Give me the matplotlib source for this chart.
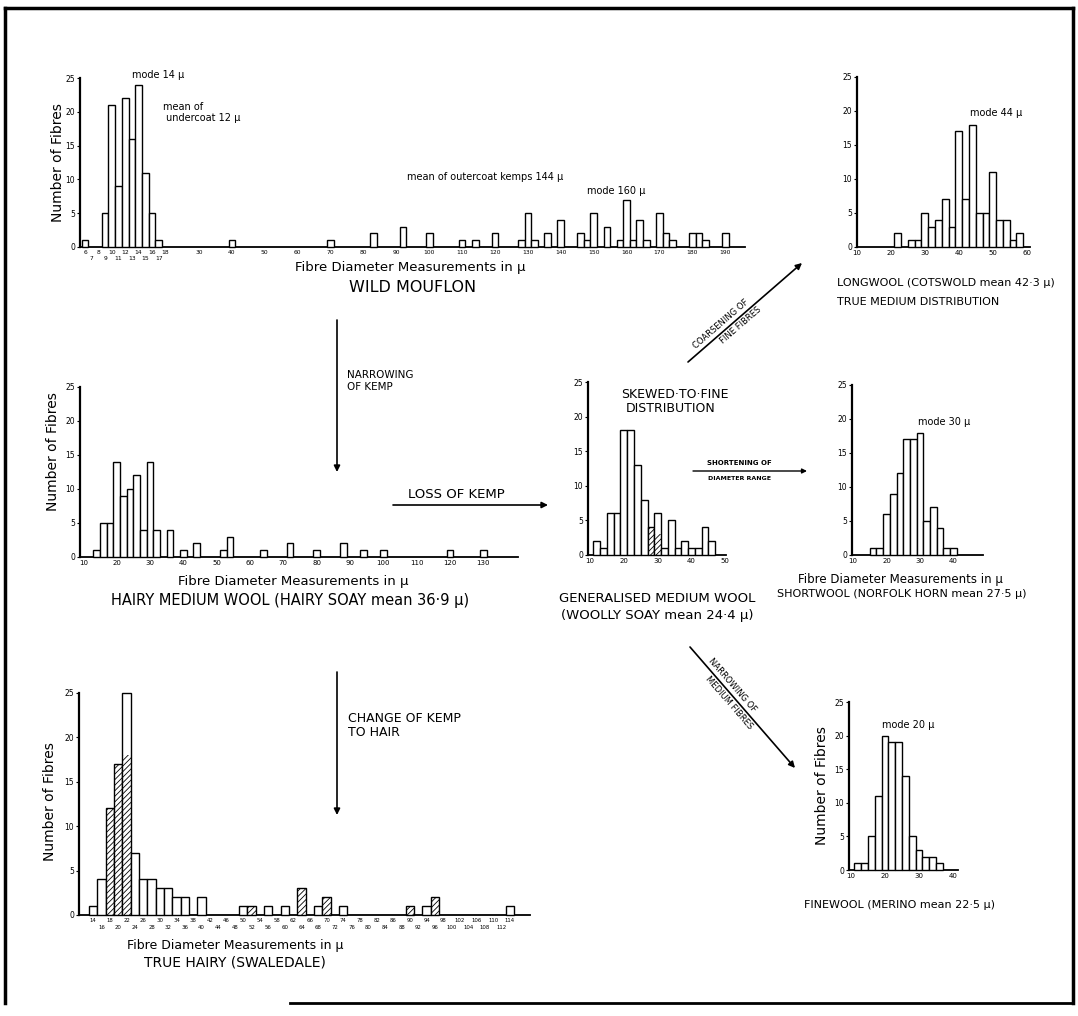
import numpy as np
import matplotlib
matplotlib.use("Agg")
import matplotlib.pyplot as plt

plt.rcParams['font.family'] = ['DejaVu Sans']
plt.rcParams['hatch.linewidth'] = 0.6

W, H = 1078, 1016
MU = '\u00b5'

# ---------------- data ----------------
# Wild mouflon: undercoat (1 micron classes) and outercoat kemps (2 micron classes)
mouflon_fine_d = [6, 9, 10, 11, 12, 13, 14, 15, 16, 17]
mouflon_fine_n = [1, 5, 21, 9, 22, 16, 24, 11, 5, 1]
mouflon_kemp_d = [40, 70, 83, 92, 100, 110, 114, 120, 128, 130, 132, 136, 140, 146, 148,
                  150, 154, 158, 160, 162, 164, 166, 170, 172, 174, 180, 182, 184, 190]
mouflon_kemp_n = [1, 1, 2, 3, 2, 1, 1, 2, 1, 5, 1, 2, 4, 2, 1,
                  5, 3, 1, 7, 1, 4, 1, 5, 2, 1, 2, 2, 1, 2]
mouflon_upper_ticks = [6, 8, 10, 12, 14, 16, 18, 30, 40, 50, 60, 70, 80, 90, 100,
                       110, 120, 130, 140, 150, 160, 170, 180, 190]
mouflon_lower_ticks = [7, 9, 11, 13, 15, 17]

# Longwool (Cotswold)
long_d = [22, 26, 28, 30, 32, 34, 36, 38, 40, 42, 44, 46, 48, 50, 52, 54, 56, 58]
long_n = [2, 1, 1, 5, 3, 4, 7, 3, 17, 7, 18, 5, 5, 11, 4, 4, 1, 2]
long_ticks = [10, 20, 30, 40, 50, 60]

# Hairy medium wool (hairy Soay)
hm_d = [14, 16, 18, 20, 22, 24, 26, 28, 30, 32, 36, 40, 44, 52, 54, 64, 72, 80, 88, 94, 100, 120, 130]
hm_n = [1, 5, 5, 14, 9, 10, 12, 4, 14, 4, 4, 1, 2, 1, 3, 1, 2, 1, 2, 1, 1, 1, 1]
hm_ticks = [10, 20, 30, 40, 50, 60, 70, 80, 90, 100, 110, 120, 130]

# Generalised medium wool (woolly Soay)
gen_d = [12, 14, 16, 18, 20, 22, 24, 26, 28, 30, 32, 34, 36, 38, 40, 42, 44, 46]
gen_n = [2, 1, 6, 6, 18, 18, 13, 8, 4, 6, 1, 5, 1, 2, 1, 1, 4, 2]
gen_hatch_d = [28, 30]
gen_hatch_n = [4, 3]
gen_ticks = [10, 20, 30, 40, 50]

# Shortwool (Norfolk Horn)
short_d = [16, 18, 20, 22, 24, 26, 28, 30, 32, 34, 36, 38, 40]
short_n = [1, 1, 6, 9, 12, 17, 17, 18, 5, 7, 4, 1, 1]
short_ticks = [10, 20, 30, 40]

# True hairy (Swaledale)
th_d = [14, 16, 18, 20, 22, 24, 26, 28, 30, 32, 34, 36, 40, 50, 52, 56, 60, 64, 68, 70, 74, 90, 94, 96, 114]
th_n = [1, 4, 12, 17, 25, 7, 4, 4, 3, 3, 2, 2, 2, 1, 1, 1, 1, 3, 1, 2, 1, 1, 1, 2, 1]
th_hatch_d = [18, 20, 22, 52, 64, 70, 90, 96]
th_hatch_n = [12, 17, 18, 1, 3, 2, 1, 2]
th_upper_ticks = list(range(14, 116, 4))
th_lower_ticks = list(range(16, 114, 4))

# Finewool (Merino)
fine_d = [12, 14, 16, 18, 20, 22, 24, 26, 28, 30, 32, 34, 36]
fine_n = [1, 1, 5, 11, 20, 19, 19, 14, 5, 3, 2, 2, 1]
fine_ticks = [10, 20, 30, 40]

y_ticks = [0, 5, 10, 15, 20, 25]

# ---------------- figure ----------------
fig = plt.figure(figsize=(W / 100, H / 100), dpi=100)
ov = fig.add_axes([0, 0, 1, 1])
ov.set_xlim(0, W)
ov.set_ylim(H, 0)
ov.axis('off')


def T(x, y, s, fs, ha='left', va='center', rot=0, **kw):
    ov.text(x, y, s, fontsize=fs, ha=ha, va=va, rotation=rot,
            rotation_mode='anchor', **kw)


def arrow(p0, p1, lw=1.2, ms=9):
    ov.annotate('', xy=p1, xytext=p0,
                arrowprops=dict(arrowstyle='-|>', lw=lw, color='black',
                                mutation_scale=ms, shrinkA=0, shrinkB=0))


def make_hist(x0, ytop, x1, ybase, xlim, xticks, xfs=5, scale=None,
              minor_ticks=None):
    ax = fig.add_axes([x0 / W, 1 - ybase / H, (x1 - x0) / W, (ybase - ytop) / H])
    ax.patch.set_alpha(0)
    if scale is not None:
        ax.set_xscale('function', functions=scale)
    ax.set_xlim(*xlim)
    ax.set_ylim(0, 25)
    for s in ('top', 'right'):
        ax.spines[s].set_visible(False)
    ax.spines['left'].set_linewidth(1.6)
    ax.spines['bottom'].set_linewidth(1.3)
    ax.set_yticks(y_ticks)
    ax.set_yticklabels([str(v) for v in y_ticks], fontsize=5.5)
    ax.set_xticks(xticks)
    ax.set_xticklabels([str(v) for v in xticks], fontsize=xfs)
    if minor_ticks:
        ax.set_xticks(minor_ticks, minor=True)
        ax.set_xticklabels([str(v) for v in minor_ticks], minor=True, fontsize=xfs)
    else:
        ax.xaxis.set_minor_locator(matplotlib.ticker.NullLocator())
    ax.tick_params(axis='y', length=2, width=0.8, pad=1.5)
    ax.tick_params(axis='x', which='major', length=0, pad=2)
    ax.tick_params(axis='x', which='minor', length=0, pad=7.5)
    return ax


def bars(ax, d, n, w=2.0):
    ax.bar(d, n, width=w, color='white', edgecolor='black', linewidth=1.0,
           clip_on=False, zorder=3)


def hatch(ax, d, n, w=2.0):
    ax.bar(d, n, width=w, fill=False, hatch='//////', edgecolor='black',
           linewidth=0, clip_on=False, zorder=4)


# ---- frame ----
ov.plot([5, 1073], [8, 8], color='black', lw=2.5)
ov.plot([5, 5], [8, 1003], color='black', lw=2.5)
ov.plot([1073, 1073], [8, 1003], color='black', lw=2.5)
ov.plot([290, 1073], [1003, 1003], color='black', lw=2.0)

# ---- Wild mouflon ----
mu_a = [0.0, 18.0, 30.0, 300.0]
px_a = [44.8, 165.4, 199.0, 1087.0]
fwd = lambda v: np.interp(v, mu_a, px_a)
inv = lambda p: np.interp(p, px_a, mu_a)
ax_m = make_hist(80, 78, 745, 247, (float(inv(80)), float(inv(745))),
                 mouflon_upper_ticks, xfs=4.3, scale=(fwd, inv),
                 minor_ticks=mouflon_lower_ticks)
ax_m.tick_params(axis='x', which='minor', pad=6.5)
bars(ax_m, mouflon_fine_d, mouflon_fine_n, w=1.0)
bars(ax_m, mouflon_kemp_d, mouflon_kemp_n, w=2.0)
T(58, 163, 'Number of Fibres', 10, ha='center', rot=90)
T(132, 75, 'mode 14 ' + MU, 7)
T(163, 107, 'mean of', 7)
T(166, 118, 'undercoat 12 ' + MU, 7)
T(407, 177, 'mean of outercoat kemps 144 ' + MU, 7)
T(587, 191, 'mode 160 ' + MU, 7)
T(410, 268, 'Fibre Diameter Measurements in ' + MU, 9.5, ha='center')
T(413, 287, 'WILD MOUFLON', 11.5, ha='center')

# ---- Longwool ----
ax_l = make_hist(857, 77, 1030, 247, (10, 61), long_ticks)
bars(ax_l, long_d, long_n)
T(970, 113, 'mode 44 ' + MU, 7)
T(837, 283, 'LONGWOOL (COTSWOLD mean 42\u00b73 ' + MU + ')', 8)
T(837, 302, 'TRUE MEDIUM DISTRIBUTION', 8)

# coarsening arrow
p0, p1 = np.array([688, 362]), np.array([802, 263])
arrow(tuple(p0), tuple(p1))
dv = (p1 - p0) / np.linalg.norm(p1 - p0)
nrm = np.array([dv[1], -dv[0]])  # up-left side
ang = np.degrees(np.arctan2(-(p1 - p0)[1], (p1 - p0)[0]))
c1 = p0 + 0.33 * (p1 - p0) + 7 * nrm
c2 = p0 + 0.42 * (p1 - p0) - 7 * nrm
T(c1[0], c1[1], 'COARSENING OF', 6, ha='center', rot=ang)
T(c2[0], c2[1], 'FINE FIBRES', 6, ha='center', rot=ang)

# ---- Hairy medium wool ----
ax_h = make_hist(80, 387, 518, 557, (9.0, 140.4), hm_ticks)
bars(ax_h, hm_d, hm_n)
T(53, 452, 'Number of Fibres', 10, ha='center', rot=90)
T(293, 582, 'Fibre Diameter Measurements in ' + MU, 9.5, ha='center')
T(290, 600, 'HAIRY MEDIUM WOOL (HAIRY SOAY mean 36\u00b79 ' + MU + ')', 10.5, ha='center')
arrow((337, 320), (337, 472))
T(347, 375, 'NARROWING', 7.5)
T(347, 387, 'OF KEMP', 7.5)
arrow((393, 505), (548, 505))
T(408, 494, 'LOSS OF KEMP', 9.5)

# ---- Generalised medium wool ----
ax_g = make_hist(588, 382, 726, 555, (9.41, 50.2), gen_ticks)
bars(ax_g, gen_d, gen_n)
hatch(ax_g, gen_hatch_d, gen_hatch_n)
T(675, 394, 'SKEWED\u00b7TO\u00b7FINE', 9, ha='center')
T(671, 409, 'DISTRIBUTION', 9, ha='center')
T(657, 598, 'GENERALISED MEDIUM WOOL', 9.5, ha='center')
T(657, 616, '(WOOLLY SOAY mean 24\u00b74 ' + MU + ')', 9.5, ha='center')
arrow((693, 471), (807, 471), lw=1.0, ms=7)
T(739, 463, 'SHORTENING OF', 5, ha='center', fontweight='bold')
T(739, 478, 'DIAMETER RANGE', 4.5, ha='center', fontweight='bold')

# ---- Shortwool ----
ax_s = make_hist(852, 385, 983, 555, (9.7, 48.8), short_ticks)
bars(ax_s, short_d, short_n)
T(918, 422, 'mode 30 ' + MU, 7)
T(900, 580, 'Fibre Diameter Measurements in ' + MU, 8.5, ha='center')
T(902, 594, 'SHORTWOOL (NORFOLK HORN mean 27\u00b75 ' + MU + ')', 8, ha='center')

# narrowing of medium fibres arrow
q0, q1 = np.array([690, 647]), np.array([795, 768])
arrow(tuple(q0), tuple(q1))
dq = (q1 - q0) / np.linalg.norm(q1 - q0)
nq = np.array([dq[1], -dq[0]])  # upper-right side
angq = np.degrees(np.arctan2(-(q1 - q0)[1], (q1 - q0)[0]))
d1 = q0 + 0.35 * (q1 - q0) + 7 * nq
d2 = q0 + 0.42 * (q1 - q0) - 7 * nq
T(d1[0], d1[1], 'NARROWING OF', 6, ha='center', rot=angq)
T(d2[0], d2[1], 'MEDIUM FIBRES', 6, ha='center', rot=angq)

# ---- True hairy ----
ax_t = make_hist(79, 693, 530, 915, (10.6, 118.8), th_upper_ticks, xfs=3.9,
                 minor_ticks=th_lower_ticks)
bars(ax_t, th_d, th_n)
hatch(ax_t, th_hatch_d, th_hatch_n)
T(50, 802, 'Number of Fibres', 10, ha='center', rot=90)
T(235, 946, 'Fibre Diameter Measurements in ' + MU, 9, ha='center')
T(235, 963, 'TRUE HAIRY (SWALEDALE)', 10, ha='center')
arrow((337, 672), (337, 815))
T(348, 718, 'CHANGE OF KEMP', 9)
T(348, 733, 'TO HAIR', 9)

# ---- Finewool ----
ax_f = make_hist(849, 702, 958, 870, (9.4, 41.5), fine_ticks)
bars(ax_f, fine_d, fine_n)
T(822, 786, 'Number of Fibres', 10, ha='center', rot=90)
T(882, 725, 'mode 20 ' + MU, 7)
T(900, 905, 'FINEWOOL (MERINO mean 22\u00b75 ' + MU + ')', 8, ha='center')

fig.savefig('out.png', dpi=100, facecolor='white')
